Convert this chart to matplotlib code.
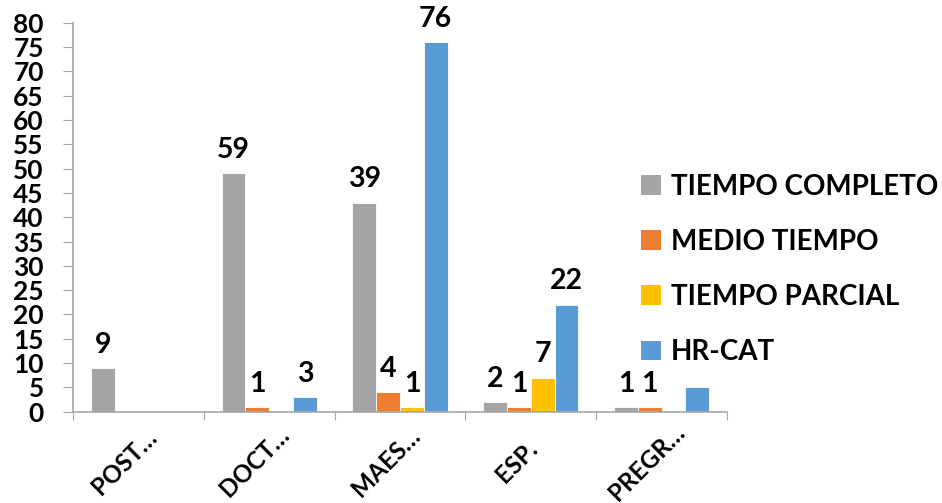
import matplotlib
matplotlib.use("Agg")
import matplotlib.pyplot as plt
from matplotlib.patches import Patch
import numpy as np

# categories and series
categories = ["POST\u2026", "DOCT\u2026", "MAES\u2026", "ESP.", "PREGR\u2026"]
series = ["TIEMPO COMPLETO", "MEDIO TIEMPO", "TIEMPO PARCIAL", "HR-CAT"]
colors = ["#A5A5A5", "#ED7D31", "#FFC000", "#5B9BD5"]

# bar heights as drawn
tiempo_completo = [9, 49, 43, 2, 1]
medio_tiempo = [0, 1, 4, 1, 1]
tiempo_parcial = [0, 0, 1, 7, 0]
hr_cat = [0, 3, 76, 22, 5]

# data labels as printed (they do not always match the bars)
lbl_completo = ["9", "59", "39", "2", "1"]
lbl_medio = ["", "1", "4", "1", "1"]
lbl_parcial = ["", "", "1", "7", ""]
lbl_hrcat = ["", "3", "76", "22", ""]

values = [tiempo_completo, medio_tiempo, tiempo_parcial, hr_cat]
labels = [lbl_completo, lbl_medio, lbl_parcial, lbl_hrcat]

plt.rcParams['font.family'] = ['Lato', 'DejaVu Sans']
plt.rcParams['font.weight'] = 'bold'

fig = plt.figure(figsize=(9.42, 5.03), dpi=100)
ax = fig.add_axes([73/942, 1-411.7/503, (727-73)/942, (411.7-22.7)/503])

x = np.arange(len(categories))
w = 1.0/5.5
for k in range(4):
    pos = x + (k-1.5)*w
    ax.bar(pos, values[k], width=w, color=colors[k], edgecolor='white', linewidth=0.6)
    for xi, v, t in zip(pos, values[k], labels[k]):
        if t:
            ax.annotate(t, (xi, v), xytext=(0, 11), textcoords='offset points',
                        ha='center', va='baseline', fontsize=20.5, fontweight='bold')

ax.set_xlim(-0.5, len(categories)-0.5)
ax.set_ylim(0, 80)
ax.set_yticks(np.arange(0, 81, 5))
ax.tick_params(axis='y', labelsize=19, length=7, pad=14, color='#A6A6A6')
for t in ax.get_yticklabels():
    t.set_fontweight('bold')
ax.set_xticks(np.arange(-0.5, len(categories), 1.0))
ax.set_xticklabels([])
ax.tick_params(axis='x', length=6, color='#A6A6A6')

for s in ['top', 'right']:
    ax.spines[s].set_visible(False)
for s in ['left', 'bottom']:
    ax.spines[s].set_color('#A6A6A6')
    ax.spines[s].set_linewidth(1.2)

# rotated category labels
for i, c in enumerate(categories):
    ax.text(i - 0.11, -0.13, c, transform=ax.get_xaxis_transform(),
            rotation=45, ha='center', va='center', fontsize=17.5, fontweight='bold')

handles = [Patch(facecolor=c) for c in colors]
fig.legend(handles, series, loc='center left', bbox_to_anchor=(641/942, 1-269.5/503),
           frameon=False, handlelength=0.72, handleheight=0.72,
           handletextpad=0.35, labelspacing=1.05, borderpad=0, borderaxespad=0,
           prop={'weight': 'bold', 'size': 20})

plt.savefig("out.png", dpi=100)
